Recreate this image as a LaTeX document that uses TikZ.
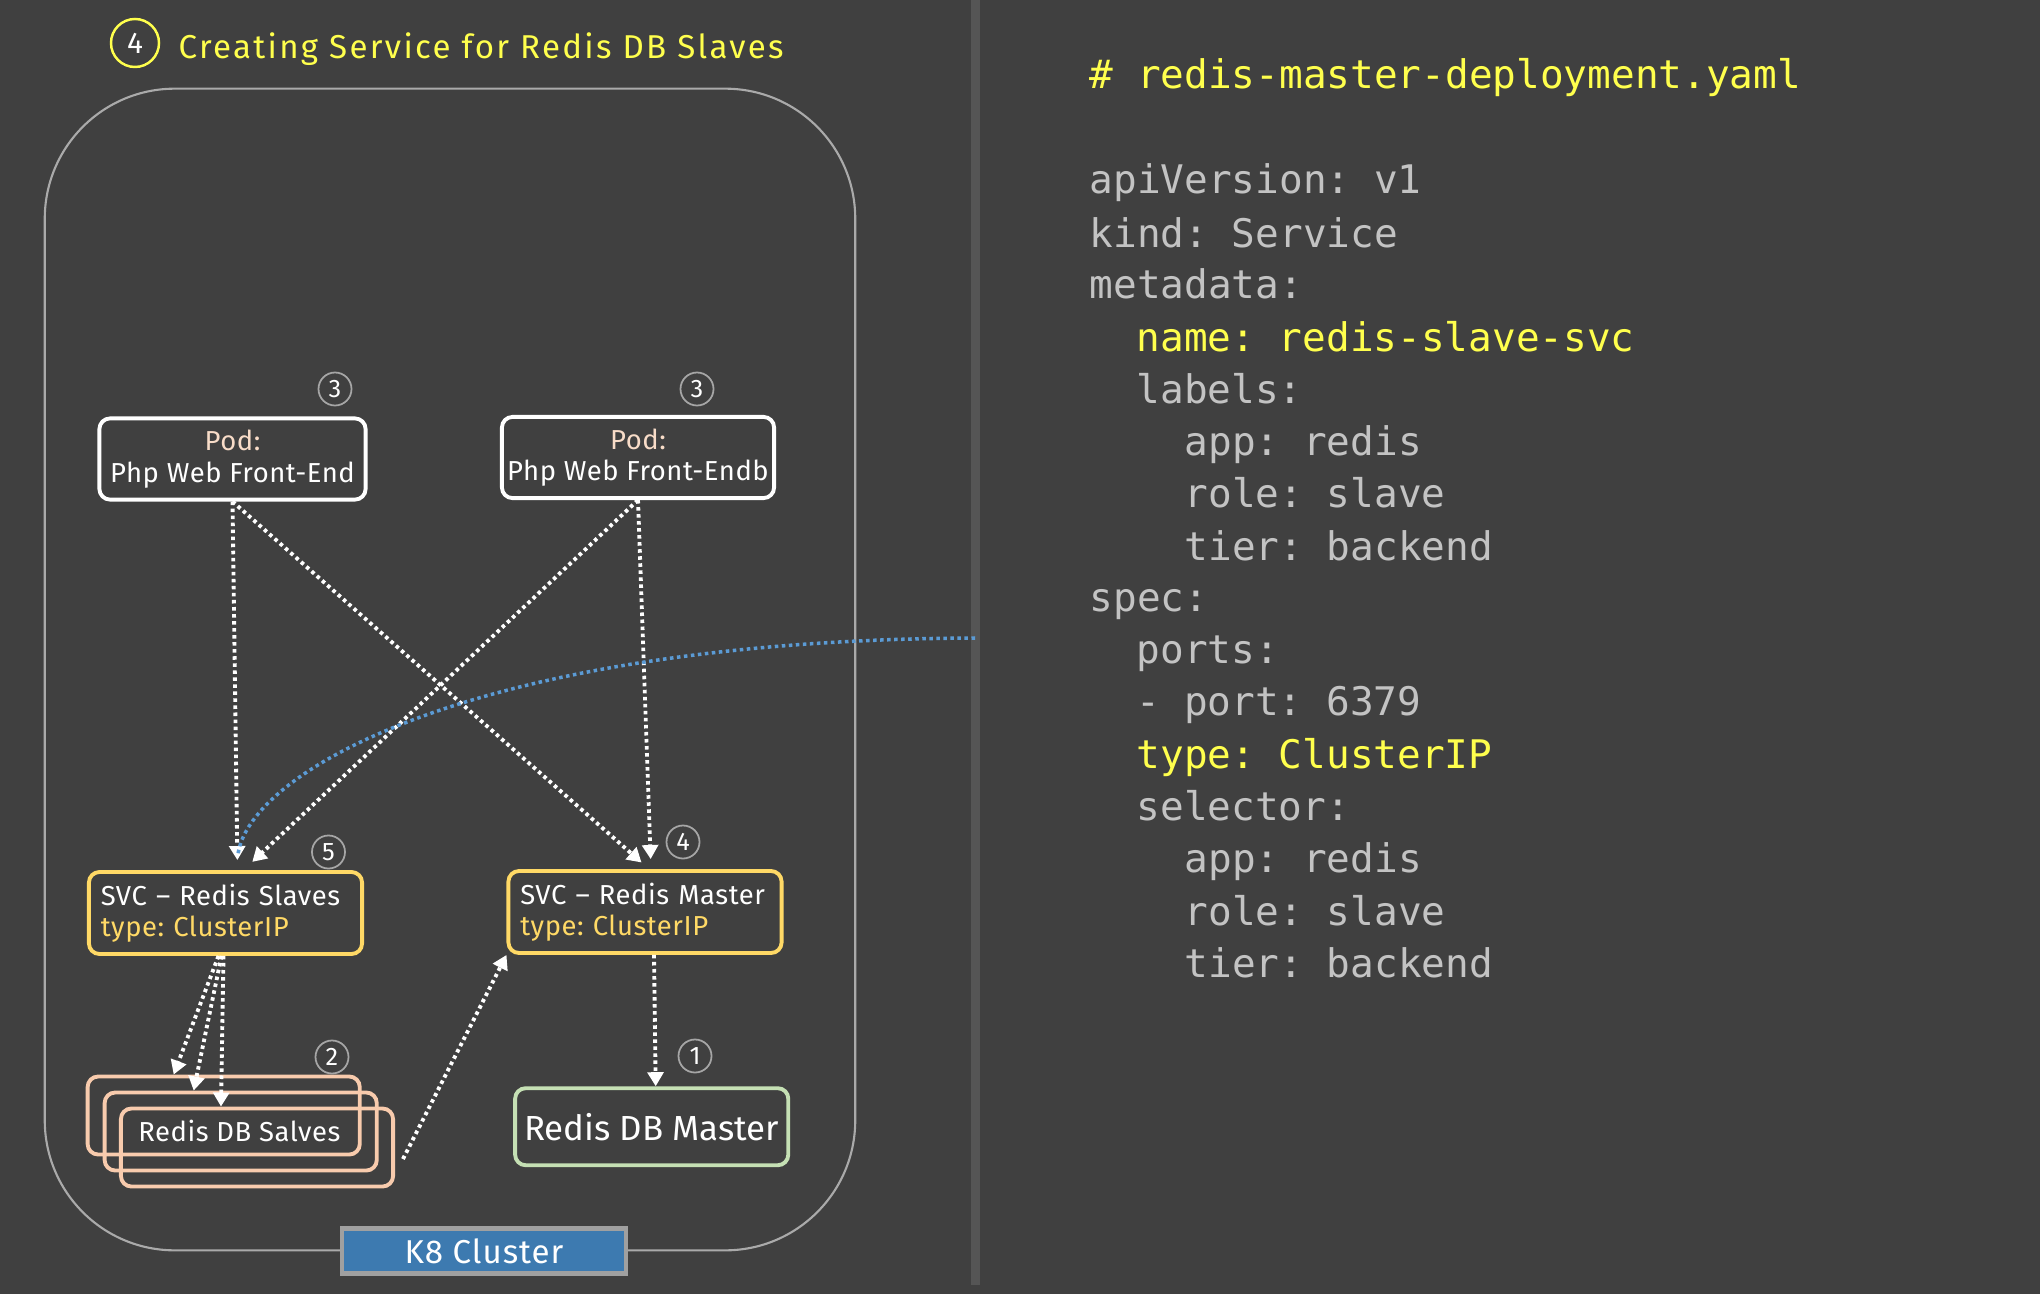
\documentclass[tikz,border=0pt]{standalone}
\usepackage{fontspec}
\setmainfont{Fira Sans}
\newfontfamily\codefont{DejaVu Sans Mono}
\usetikzlibrary{arrows.meta}

\definecolor{bgdark}{HTML}{404040}
\definecolor{divgray}{HTML}{555555}
\definecolor{clustergray}{HTML}{AAAAAA}
\definecolor{titleyellow}{HTML}{FFFF4D}
\definecolor{codegray}{HTML}{C3C3C3}
\definecolor{podpeach}{HTML}{F8DCC8}
\definecolor{svcgold}{HTML}{FFD966}
\definecolor{slavepeach}{HTML}{F8CBAD}
\definecolor{mastergreen}{HTML}{C5E0B4}
\definecolor{kblue}{HTML}{3D7AB0}
\definecolor{kborder}{HTML}{A0A0A0}
\definecolor{curveblue}{HTML}{5B9BD5}
\definecolor{numgray}{HTML}{A6A6A6}

\newcommand\boxfont{\fontsize{7.8}{8.9}\selectfont\addfontfeatures{LetterSpace=2}}

\tikzset{
  pod/.style={draw=white, line width=1.1pt, rounded corners=3pt, minimum height=0.78cm,
    inner xsep=0.04cm, align=center, text=white, font=\boxfont},
  svc/.style={draw=svcgold, line width=1.1pt, rounded corners=3pt, minimum height=0.78cm,
    text width=2.49cm, inner xsep=0.12cm, align=left, text=white, font=\boxfont},
  slave/.style={draw=slavepeach, line width=1.1pt, rounded corners=3pt,
    minimum width=2.72cm, minimum height=0.78cm},
  num/.style={circle, draw=numgray, line width=0.5pt, text=white, inner sep=0pt,
    minimum size=0.33cm, font=\fontsize{7.2}{8}\selectfont},
  flow/.style={white, line width=1.1pt, dash pattern=on 1pt off 1pt,
    -{Triangle[width=4.5pt,length=4pt]}},
  code/.style={anchor=base west, inner sep=0pt, text=codegray,
    font=\codefont\fontsize{11.2}{13}\selectfont}
}

\begin{document}
\frenchspacing
\begin{tikzpicture}[x=0.01cm,y=-0.01cm]
  \useasboundingbox (0,0) rectangle (2040,1294);
  \fill[bgdark] (0,0) rectangle (2040,1294);
  \fill[divgray] (971,0) rectangle (980,1285);

  % title
  \node[circle, draw=titleyellow, line width=0.7pt, text=white, minimum size=0.48cm,
    inner sep=0pt, font=\fontsize{8.5}{9}\selectfont] (stepnum) at (135,43) {4};
  \node[anchor=base west, inner sep=0pt, text=titleyellow,
    font=\fontsize{9.4}{11}\selectfont\addfontfeatures{LetterSpace=7}]
    (title) at (178,59) {Creating Service for Redis DB Slaves};

  % cluster
  \node[draw=clustergray, line width=0.6pt, rounded corners=1.3cm,
    minimum width=8.1cm, minimum height=11.61cm] (cluster) at (450,669.5) {};
  \node[fill=kblue, draw=kborder, line width=1.3pt, minimum width=2.84cm, minimum height=0.45cm,
    text=white, inner sep=0pt, font=\fontsize{9.4}{11}\selectfont\addfontfeatures{LetterSpace=3}]
    (k8) at (484,1251) {K8 Cluster};

  % pods
  \node[pod, minimum width=2.66cm] (pod1) at (232.5,459) {\textcolor{podpeach}{Pod:}\\Php Web Front-End};
  \node[pod, minimum width=2.72cm] (pod2) at (638,457.5) {\textcolor{podpeach}{Pod:}\\Php Web Front-Endb};
  \node[num] (n3a) at (335,389) {3};
  \node[num] (n3b) at (697,389) {3};

  % services
  \node[svc] (svcs) at (225.5,913) {SVC -- Redis Slaves\\\textcolor{svcgold}{type: ClusterIP}};
  \node[svc] (svcm) at (645,912) {SVC -- Redis Master\\\textcolor{svcgold}{type: ClusterIP}};
  \node[num] (n5) at (328.5,852) {5};
  \node[num] (n4) at (683,842) {4};

  % redis
  \node[slave] (s1) at (223.7,1115.5) {};
  \node[slave] (s2) at (240.7,1131.5) {};
  \node[slave] (s3) at (257,1147.5) {};
  \node[text=white, font=\boxfont] (slavetxt) at (239.4,1131) {Redis DB Salves};
  \node[draw=mastergreen, line width=1.1pt, rounded corners=3pt, minimum width=2.73cm,
    minimum height=0.77cm, inner sep=0pt, text=white, font=\fontsize{9.9}{11}\selectfont]
    (rdm) at (651.7,1126.7) {Redis DB Master};
  \node[num] (n2) at (332,1057) {2};
  \node[num] (n1) at (695,1056) {1};

  % connectors
  \draw[flow, shorten >=0.1cm] (pod1.south) -- ([xshift=0.12cm]svcs.north);
  \draw[flow, shorten >=0.1cm] (pod1.south) -- ([xshift=0.04cm]svcm.north);
  \draw[flow, shorten >=0.12cm] (pod2.south) -- ([xshift=0.18cm]svcs.north);
  \draw[flow, shorten >=0.1cm] (pod2.south) -- ([xshift=0.06cm]svcm.north);
  \draw[flow] ([xshift=-0.07cm]svcs.south) -- ([xshift=-0.5cm]s1.north);
  \draw[flow] ([xshift=-0.04cm]svcs.south) -- ([xshift=-0.47cm]s2.north);
  \draw[flow] ([xshift=-0.02cm]svcs.south) -- ([xshift=-0.36cm]s3.north);
  \coordinate (slaveout) at (403,1159);
  \draw[flow] (slaveout) -- (svcm.south west);
  \draw[flow] ([xshift=0.09cm]svcm.south) -- ([xshift=0.04cm]rdm.north);

  \coordinate (yamlref) at (975,638);
  \draw[curveblue, line width=1pt, dash pattern=on 1pt off 1pt]
    (yamlref) .. controls (480,640) and (250,770) .. ([xshift=0.125cm,yshift=0.16cm]svcs.north);

  % yaml
  \node[code, text=titleyellow] (l1) at (1089,89) {\# redis-master-deployment.yaml};
  \node[code] (l2) at (1089,194) {apiVersion: v1};
  \node[code] (l3) at (1089,247) {kind: Service};
  \node[code] (l4) at (1089,298) {metadata:};
  \node[code, text=titleyellow] (l5) at (1136,351) {name: redis-slave-svc};
  \node[code] (l6) at (1136,403) {labels:};
  \node[code] (l7) at (1184,455) {app: redis};
  \node[code] (l8) at (1184,507) {role: slave};
  \node[code] (l9) at (1184,560) {tier: backend};
  \node[code] (l10) at (1089,611) {spec:};
  \node[code] (l11) at (1136,663) {ports:};
  \node[code] (l12) at (1136,715) {- port: 6379};
  \node[code, text=titleyellow] (l13) at (1136,768) {type: ClusterIP};
  \node[code] (l14) at (1136,820) {selector:};
  \node[code] (l15) at (1184,872) {app: redis};
  \node[code] (l16) at (1184,925) {role: slave};
  \node[code] (l17) at (1184,977) {tier: backend};
\end{tikzpicture}
\end{document}
